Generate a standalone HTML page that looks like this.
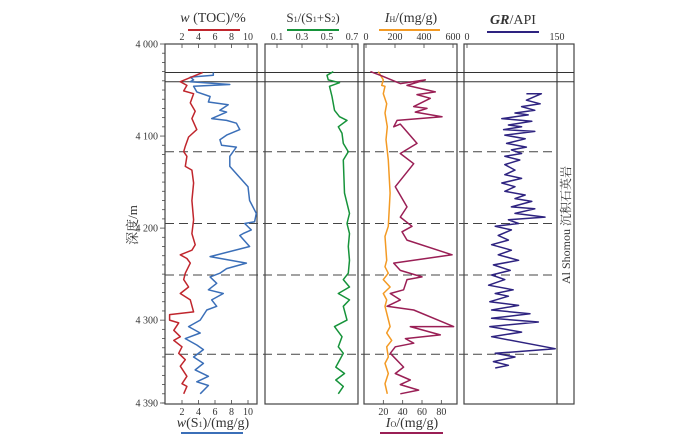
<!DOCTYPE html>
<html><head><meta charset="utf-8"><style>
body{margin:0;background:#fff}
svg{display:block;font-family:"Liberation Serif","Noto Serif CJK SC",serif}
</style></head><body>
<svg id="c" width="700" height="445" viewBox="0 0 700 445">
<rect width="700" height="445" fill="#fff"/>
<g id="frames"></g><g id="marks"></g><g id="txt" font-size="11" fill="#333"></g>
</svg>
<script>
const tocDepth=[4031,4035,4041,4045,4051,4054,4064,4073,4081,4093,4101,4111,4117,4122,4133,4137,4151,4170,4191,4206,4218,4224,4229,4233,4238,4249,4256,4264,4271,4278,4291,4294,4300,4303,4311,4318,4322,4329,4336,4343,4350,4361,4369,4372,4380];
const tocValues=[4.5,3.4,1.8,2.6,2.2,3.4,3.0,3.6,3.2,3.8,2.8,2.4,2.2,2.6,2.4,3.2,3.4,3.2,3.4,3.2,3.6,3.2,1.8,2.6,3.0,2.4,2.2,2.8,1.8,3.0,3.4,0.5,0.5,1.6,1.0,1.8,1.0,2.0,1.6,2.4,1.8,2.6,2.0,2.6,2.2];
const s1Depth=[4031,4034,4036,4039,4041,4044,4046,4052,4057,4063,4066,4072,4074,4081,4083,4086,4093,4099,4104,4110,4112,4122,4133,4155,4170,4184,4193,4195,4202,4206,4208,4220,4231,4238,4244,4249,4253,4260,4267,4271,4278,4285,4289,4300,4307,4314,4320,4327,4332,4340,4347,4354,4361,4367,4371,4380];
const s1Values=[5.8,5.8,3.0,3.4,3.0,7.8,3.4,3.8,5.4,5.2,7.6,6.6,7.4,5.6,7.4,8.6,9.0,7.4,6.6,6.8,8.6,7.8,7.8,10.0,10.2,11.0,10.8,9.6,10.4,9.4,9.0,10.2,5.4,9.8,7.4,6.6,5.4,6.2,5.2,7.0,5.6,6.2,5.0,4.2,2.8,4.2,2.4,3.8,4.6,3.4,4.6,3.6,5.2,3.8,5.2,4.2];
const ratioDepth=[4030,4034,4039,4042,4046,4057,4072,4079,4083,4090,4097,4108,4117,4126,4162,4184,4195,4206,4220,4235,4249,4256,4264,4271,4278,4285,4300,4307,4318,4329,4336,4351,4358,4365,4372,4380];
const ratioValues=[0.55,0.50,0.51,0.60,0.52,0.54,0.56,0.60,0.66,0.59,0.62,0.63,0.67,0.63,0.64,0.68,0.66,0.68,0.67,0.68,0.67,0.63,0.68,0.59,0.68,0.63,0.66,0.56,0.62,0.59,0.63,0.57,0.64,0.57,0.63,0.59];
const ihDepth=[4030,4039,4045,4046,4054,4065,4075,4090,4104,4126,4162,4198,4209,4235,4242,4249,4256,4264,4271,4278,4285,4307,4314,4322,4329,4340,4347,4358,4369,4380];
const ihValues=[85,119,108,131,119,143,131,147,138,154,166,154,131,143,131,154,119,166,119,143,131,166,143,177,143,154,131,154,131,147];
const ioDepth=[4030,4034,4043,4039,4045,4052,4055,4059,4068,4070,4074,4079,4083,4090,4087,4108,4119,4130,4155,4177,4188,4198,4204,4213,4229,4238,4246,4253,4256,4267,4271,4278,4285,4289,4307,4307,4316,4320,4325,4329,4336,4351,4358,4365,4370,4376,4380];
const ioValues=[6.6,16.9,37.6,63.4,44.5,73.8,54.8,68.6,51.4,65.2,53.1,80.7,34.2,30.7,37.6,54.8,37.6,51.4,32.4,44.5,37.6,49.7,39.3,44.5,91.1,30.7,37.6,60,44.5,41,27.2,37.6,23.8,51.4,92.7,47.9,78.9,42.8,51.4,32.4,27.2,41,32.4,47.9,37.6,56.5,37.6];
const grDepth=[4054,4054,4061,4065,4068,4072,4075,4077,4081,4084,4088,4090,4093,4095,4099,4103,4108,4112,4115,4119,4122,4126,4131,4137,4142,4146,4151,4155,4160,4164,4168,4171,4177,4179,4184,4188,4191,4195,4198,4202,4208,4213,4218,4224,4229,4235,4240,4246,4251,4256,4262,4267,4271,4274,4280,4284,4289,4293,4298,4302,4307,4313,4318,4331,4336,4340,4345,4349,4352];
const grValues=[99,124,99,122,91,113,80,102,58,108,69,91,61,113,63,97,66,99,74,91,63,88,63,80,63,91,58,80,63,97,80,108,74,113,80,130,69,86,47,74,52,69,41,74,52,86,44,72,41,63,36,77,47,69,38,86,41,105,41,119,38,91,41,147,47,80,44,69,47];
const depthTicks=[4000,4100,4200,4300,4390];
const tocTicks=[2,4,6,8,10], ratioTicks=[0.1,0.3,0.5,0.7], ihTicks=[0,200,400,600], grTicks=[0,150], ioTicks=[20,40,60,80];
const horizSolid=[4031,4041], horizDashed=[4117,4195,4251,4337];

const NS='http://www.w3.org/2000/svg';
const Y=d=>44+(d-4000)*0.9205;
const xToc=v=>165.5+v*8.25, xRatio=v=>264.5+v*125, xIh=v=>366+v*0.145, xIo=v=>364+v*0.9667, xGr=v=>467+v*0.6;
function el(p,tag,attrs,text){const e=document.createElementNS(NS,tag);for(const k in attrs)e.setAttribute(k,attrs[k]);if(text!==undefined)e.textContent=text;p.appendChild(e);return e;}
const F=document.getElementById('frames'),M=document.getElementById('marks'),T=document.getElementById('txt');
const panels=[[165,257],[265,358],[364,457],[464,574]];
panels.forEach((p,i)=>{const r=el(F,'rect',{x:p[0],y:44,width:p[1]-p[0],height:360,fill:'none',stroke:'#444','stroke-width':1.2});

});
const inner=el(F,'line',{x1:557,x2:557,y1:44,y2:404,stroke:'#444','stroke-width':1.2});


horizSolid.forEach(d=>{const l=el(F,'line',{x1:165,x2:574,y1:Y(d),y2:Y(d),stroke:'#333','stroke-width':1});

});
horizDashed.forEach(d=>{const l=el(F,'line',{x1:165,x2:557,y1:Y(d),y2:Y(d),stroke:'#444','stroke-width':1,'stroke-dasharray':'9,5'});

});
for(let d=4000;d<=4390;d+=10){const maj=d%100===0;el(F,'line',{x1:maj?160:162,x2:165,y1:Y(d),y2:Y(d),stroke:'#444','stroke-width':0.8});}
el(F,'line',{x1:160,x2:165,y1:Y(4390),y2:Y(4390),stroke:'#444','stroke-width':0.8});
depthTicks.forEach(d=>{const t=el(T,'text',{x:158,y:Y(d)+3.5,'text-anchor':'end','font-size':10},String(d).replace(/^(\d)/,'$1 '));

});
function topTicks(arr,fx,y,down){arr.forEach(v=>{el(F,'line',{x1:fx(v),x2:fx(v),y1:down?404:44,y2:down?400:48,stroke:'#444','stroke-width':0.8});
const t=el(T,'text',{x:fx(v),y:y,'text-anchor':'middle','font-size':10},String(v));

});}
topTicks(tocTicks,xToc,40);topTicks(ratioTicks,xRatio,40);topTicks(ihTicks,xIh,40);topTicks(grTicks,xGr,40);
topTicks(tocTicks,xToc,415,true);topTicks(ioTicks,xIo,415,true);
function series(dep,val,fx,col,name){const pts=dep.map((d,i)=>fx(val[i]).toFixed(1)+','+Y(d).toFixed(1)).join(' ');
const p=el(M,'polyline',{points:pts,fill:'none',stroke:col,'stroke-width':1.5,'stroke-linejoin':'round'});

}
series(s1Depth,s1Values,xToc,'#3b6fb8','s1-line');
series(tocDepth,tocValues,xToc,'#c0262d','toc-line');
series(ratioDepth,ratioValues,xRatio,'#16933a','ratio-line');
series(ihDepth,ihValues,xIh,'#f39a24','ih-line');
series(ioDepth,ioValues,xIo,'#9a1f55','io-line');
series(grDepth,grValues,xGr,'#2e2380','gr-line');
</script>
<svg width="700" height="445" style="position:absolute;left:0;top:0" font-family='"Liberation Serif","Noto Serif CJK SC",serif' fill="#333">
<g><text x="213" y="22" font-size="14" text-anchor="middle"><tspan font-style="italic">w</tspan> (TOC)/%</text><line x1="188" x2="240" y1="30" y2="30" stroke="#c0262d" stroke-width="2"/></g>
<g><text x="313" y="22" font-size="13" text-anchor="middle">S<tspan font-size="8">1</tspan>/(S<tspan font-size="8">1</tspan>+S<tspan font-size="8">2</tspan>)</text><line x1="287" x2="339" y1="30" y2="30" stroke="#16933a" stroke-width="2"/></g>
<g><text x="411" y="22" font-size="14" text-anchor="middle"><tspan font-style="italic">I</tspan><tspan font-size="8">H</tspan>/(mg/g)</text><line x1="379" x2="440" y1="30" y2="30" stroke="#f39a24" stroke-width="2"/></g>
<g><text x="513" y="24" font-size="14" text-anchor="middle"><tspan font-style="italic" font-weight="bold">GR</tspan>/API</text><line x1="487" x2="539" y1="32" y2="32" stroke="#2e2380" stroke-width="2"/></g>
<g><text x="213" y="427" font-size="14" text-anchor="middle"><tspan font-style="italic">w</tspan>(S<tspan font-size="8">1</tspan>)/(mg/g)</text><line x1="181" x2="243" y1="433" y2="433" stroke="#3b6fb8" stroke-width="2"/></g>
<g><text x="412" y="427" font-size="14" text-anchor="middle"><tspan font-style="italic">I</tspan><tspan font-size="8">O</tspan>/(mg/g)</text><line x1="380" x2="443" y1="433" y2="433" stroke="#9a1f55" stroke-width="2"/></g>
<text transform="translate(137,225) rotate(-90)" font-size="13" text-anchor="middle">深度/m</text>
<text transform="translate(570,225) rotate(-90)" font-size="12" text-anchor="middle">Al Shomou 沉积石英岩</text>
</svg>
</body></html>
